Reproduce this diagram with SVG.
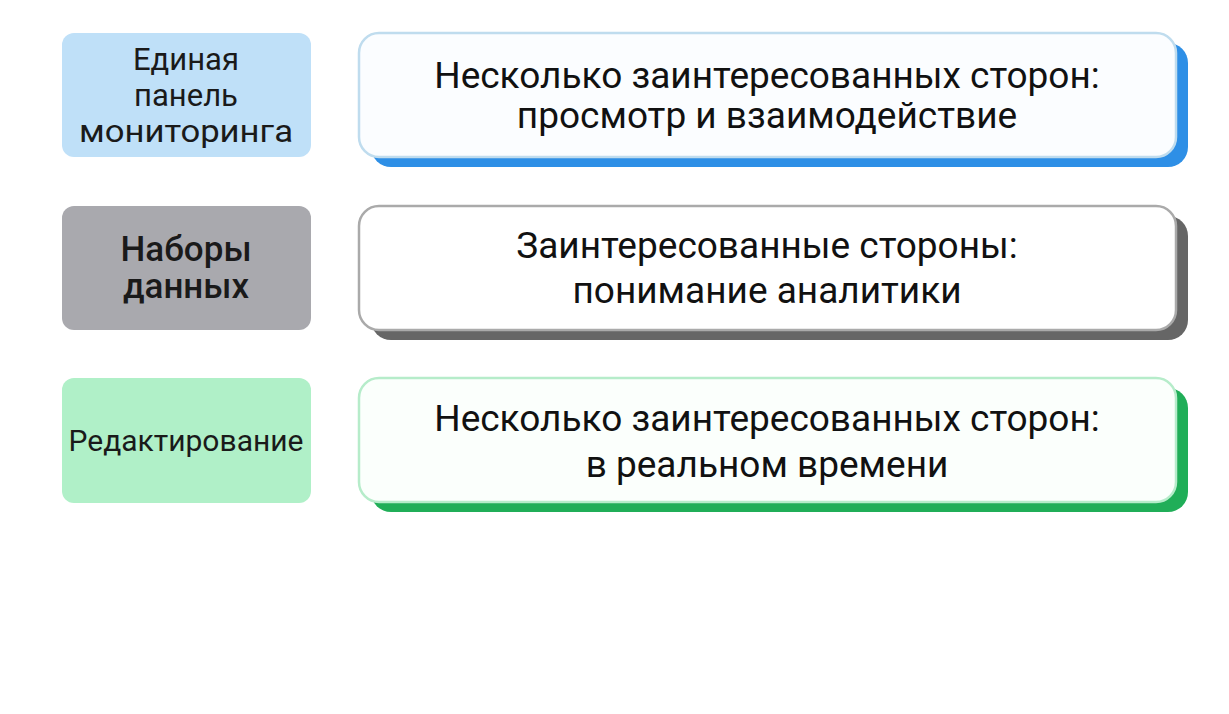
<svg xmlns="http://www.w3.org/2000/svg" width="1229" height="714" viewBox="0 0 1229 714">
<style>
.l{font-family:Roboto,"Liberation Sans",sans-serif;fill:#1a1a1a;text-anchor:middle}
.r{font-family:Roboto,"Liberation Sans",sans-serif;fill:#111;font-size:37px;text-anchor:middle}
</style>
<rect width="1229" height="714" fill="#fff"/>
<g id="n1">
<rect x="62" y="33" width="249" height="124" rx="12" fill="#bfe0f8"/>
<text class="l" font-size="31" x="186" y="70">Единая</text>
<text class="l" font-size="31" x="186" y="106">панель</text>
<text class="l" font-size="31" x="186" y="142" textLength="214" lengthAdjust="spacingAndGlyphs">мониторинга</text>
</g>
<g id="c1">
<rect x="371" y="43" width="817" height="124" rx="20" fill="#2e8fe6"/>
<rect x="359" y="33" width="817" height="124" rx="20" fill="#fbfdff" stroke="#bfdcee" stroke-width="2.5"/>
<text class="r" x="767" y="88">Несколько заинтересованных сторон:</text>
<text class="r" x="767" y="128">просмотр и взаимодействие</text>
</g>
<g id="n2">
<rect x="62" y="206" width="249" height="124" rx="12" fill="#a9a9ae"/>
<text class="l" font-size="35" font-weight="500" x="186" y="261">Наборы</text>
<text class="l" font-size="35" font-weight="500" x="186" y="298">данных</text>
</g>
<g id="c2">
<rect x="371" y="216" width="817" height="124" rx="20" fill="#666"/>
<rect x="359" y="206" width="817" height="124" rx="20" fill="#fff" stroke="#aaa" stroke-width="2.5"/>
<text class="r" x="767" y="258">Заинтересованные стороны:</text>
<text class="r" x="767" y="303">понимание аналитики</text>
</g>
<g id="n3">
<rect x="62" y="378" width="249" height="125" rx="12" fill="#b0f0c8"/>
<text class="l" font-size="30" x="186" y="451">Редактирование</text>
</g>
<g id="c3">
<rect x="371" y="388" width="817" height="124" rx="20" fill="#20ae58"/>
<rect x="359" y="378" width="817" height="124" rx="20" fill="#fbfffc" stroke="#b6ecca" stroke-width="2.5"/>
<text class="r" x="767" y="431">Несколько заинтересованных сторон:</text>
<text class="r" x="767" y="477">в реальном времени</text>
</g>
<g id="connectors"/>
</svg>
